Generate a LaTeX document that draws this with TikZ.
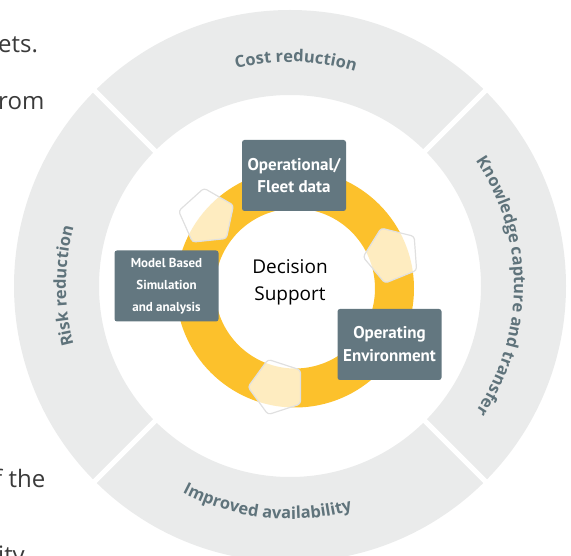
\documentclass[tikz,border=0pt]{standalone}
\usepackage{fontspec}
\setmainfont{Open Sans}
\newfontfamily\boxfont{PT Sans}
\usetikzlibrary{shapes.geometric,decorations.text}

\definecolor{ringgray}{HTML}{EAEBEB}
\definecolor{slate}{HTML}{5F737B}
\definecolor{boxgray}{HTML}{637780}
\definecolor{sunny}{HTML}{FCC12C}
\definecolor{bodytext}{HTML}{3A3A3A}

\tikzset{
  infobox/.style={fill=boxgray, rounded corners=2.5pt, minimum width=104pt,
    minimum height=71pt, text=white, align=center, inner sep=0pt},
  flowpent/.style={regular polygon, regular polygon sides=5, minimum size=58pt,
    inner sep=0pt, fill=white, fill opacity=0.7, draw=black!12,
    line width=1.2pt, rounded corners=3pt},
  ringlabel/.style={decorate, decoration={text along path, text align=center,
    text color=slate, text={|\fontsize{16.5}{16.5}\selectfont\bfseries|#1}}},
  pagetext/.style={anchor=base west, inner sep=0pt, text=bodytext,
    font=\fontsize{24}{24}\selectfont}
}

\begin{document}
\begin{tikzpicture}[x=1pt, y=1pt]
  \useasboundingbox (0,0) rectangle (571,555);
  \clip (0,0) rectangle (571,555);

  % Running text of the page behind
  \node[pagetext] (ln1) at (-2,502) {ets.};
  \node[pagetext] (ln2) at (-2,445) {rom};
  \node[pagetext] (ln3) at (-6,67) {f the};
  \node[pagetext] (ln4) at (-2,-8) {ity};

  % Outer ring in four segments
  \coordinate (hub) at (290,269);
  \fill[ringgray, even odd rule] (hub) circle[radius=276] (hub) circle[radius=191];
  \foreach \a in {45,135,225,315}
    \draw[white, line width=5pt] (hub) ++(\a:186) -- ++(\a:95);

  % Benefits around the ring
  \path[ringlabel={Cost reduction}] (hub) ++(135:224) arc[start angle=135, end angle=42, radius=224];
  \path[ringlabel={Knowledge capture and transfer}] (hub) ++(52:224) arc[start angle=52, end angle=-52, radius=224];
  \path[ringlabel={Risk reduction}] (hub) ++(225:224) arc[start angle=225, end angle=135, radius=224];
  \path[ringlabel={Improved availability}] (hub) ++(-142:233) arc[start angle=-142, end angle=-50, radius=233];

  % Yellow cycle
  \coordinate (cycle) at (295,266.5);
  \fill[sunny, even odd rule] (cycle) circle[radius=119] (cycle) circle[radius=80];

  % Pentagons on the cycle
  \node[flowpent, rotate=6] (pa) at (207,338) {};
  \node[flowpent, rotate=22] (pb) at (392,300) {};
  \node[flowpent, rotate=18] (pc) at (277,168) {};

  % Data sources
  \node[infobox, font=\boxfont\bfseries\fontsize{17}{22}\selectfont] (fleet) at (294,379.5) {Operational/\\Fleet data};
  \node[infobox, font=\boxfont\bfseries\fontsize{13}{22}\selectfont] (model) at (166.5,269) {Model Based\\Simulation\\and analysis};
  \node[infobox, font=\boxfont\bfseries\fontsize{17}{23}\selectfont] (environ) at (389.5,210.5) {Operating\\Environment};

  \node[align=center, font=\fontsize{19}{27}\selectfont] (decision) at (290,273) {Decision\\Support};
\end{tikzpicture}
\end{document}
